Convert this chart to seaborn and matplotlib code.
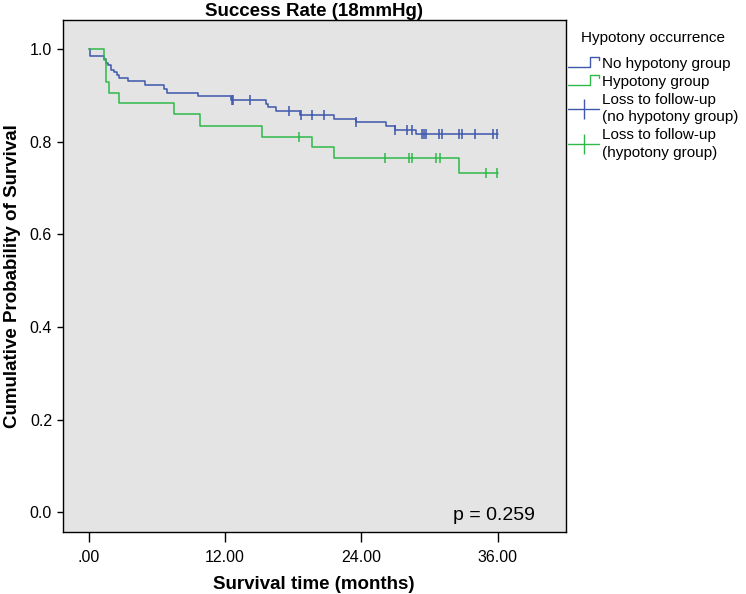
import matplotlib
matplotlib.use("Agg")
import matplotlib.pyplot as plt
import numpy as np
import pandas as pd
import seaborn as sns
from matplotlib.legend_handler import HandlerBase
from matplotlib.lines import Line2D

# Kaplan-Meier step levels (months, survival)
no_hypo_times = [0, 0.1, 1.4, 1.5, 1.75, 2.0, 2.2, 2.5, 2.7, 3.5, 5.0, 6.6, 6.9, 9.6,
                 12.5, 15.6, 15.8, 16.5, 18.6, 21.6, 23.5, 26.2, 27.0, 28.8, 36.0]
no_hypo_surv = [1.0, 0.985, 0.978, 0.971, 0.965, 0.955, 0.950, 0.944, 0.938, 0.931,
                0.922, 0.915, 0.906, 0.898, 0.890, 0.881, 0.875, 0.866, 0.857, 0.850,
                0.842, 0.833, 0.825, 0.816, 0.816]
no_hypo_censor = [12.6, 12.7, 14.2, 17.6, 18.7, 19.7, 20.7, 23.5, 27.0, 28.0, 28.5,
                  29.3, 29.5, 29.7, 30.8, 31.1, 32.6, 32.9, 34.0, 35.6, 35.9]

hypo_times = [0, 1.36, 1.55, 1.8, 2.7, 7.5, 9.8, 15.3, 19.7, 21.6, 32.6, 36.0]
hypo_surv = [1.0, 0.976, 0.929, 0.906, 0.883, 0.859, 0.835, 0.811, 0.788, 0.764,
             0.733, 0.733]
hypo_censor = [18.5, 26.1, 28.2, 28.5, 30.6, 30.9, 35.0, 35.9]

GROUPS = ["No hypotony group", "Hypotony group"]
COLORS = {"No hypotony group": "#3E58AC", "Hypotony group": "#2EB848"}
X_TICKS = [0, 12, 24, 36]
X_TICK_LABELS = [".00", "12.00", "24.00", "36.00"]
Y_TICKS = [0.0, 0.2, 0.4, 0.6, 0.8, 1.0]
P_TEXT = "p = 0.259"


def surv_at(times, surv, t):
    idx = np.searchsorted(np.asarray(times), t, side="right") - 1
    return np.asarray(surv)[idx]


class StepHandler(HandlerBase):
    def create_artists(self, legend, orig_handle, xdescent, ydescent,
                       width, height, fontsize, trans):
        x0, y0 = -xdescent, -ydescent
        xs = [x0, x0 + 0.72 * width, x0 + 0.72 * width, x0 + width, x0 + width]
        ys = [y0 + 0.1 * height, y0 + 0.1 * height, y0 + 1.0 * height,
              y0 + 1.0 * height, y0 + 0.75 * height]
        line = Line2D(xs, ys, color=orig_handle.get_color(),
                      lw=orig_handle.get_linewidth(), transform=trans)
        return [line]


curves = pd.concat([
    pd.DataFrame({"time": no_hypo_times, "surv": no_hypo_surv, "group": GROUPS[0]}),
    pd.DataFrame({"time": hypo_times, "surv": hypo_surv, "group": GROUPS[1]}),
], ignore_index=True)

censors = pd.concat([
    pd.DataFrame({"time": no_hypo_censor,
                  "surv": surv_at(no_hypo_times, no_hypo_surv, no_hypo_censor),
                  "group": GROUPS[0]}),
    pd.DataFrame({"time": hypo_censor,
                  "surv": surv_at(hypo_times, hypo_surv, hypo_censor),
                  "group": GROUPS[1]}),
], ignore_index=True)

sns.set_style("ticks")
plt.rcParams["font.family"] = ["Liberation Sans", "DejaVu Sans"]
plt.rcParams.update({"text.color": "black", "axes.labelcolor": "black",
                     "xtick.color": "black", "ytick.color": "black"})

fig = plt.figure(figsize=(7.46, 5.94), dpi=100)
ax = fig.add_axes([0.0838, 0.1044, 0.6748, 0.8619])
ax.set_facecolor("#E4E4E4")

sns.lineplot(data=curves, x="time", y="surv", hue="group", palette=COLORS,
             drawstyle="steps-post", estimator=None, sort=False, linewidth=1.1,
             legend=False, ax=ax)
for group in GROUPS:
    sub = censors[censors["group"] == group]
    ax.plot(sub["time"], sub["surv"], linestyle="none", marker="|",
            markersize=7, markeredgewidth=1.1, color=COLORS[group])

ax.set_xlim(-2.29, 42.0)
ax.set_ylim(-0.043, 1.063)
ax.set_xticks(X_TICKS)
ax.set_xticklabels(X_TICK_LABELS)
ax.set_yticks(Y_TICKS)
ax.set_yticklabels([f"{v:.1f}" for v in Y_TICKS])
ax.tick_params(axis="x", length=7, width=1.0, pad=6, labelsize=11.5)
ax.tick_params(axis="y", length=4.5, width=1.0, pad=3, labelsize=11.5)
for spine in ax.spines.values():
    spine.set_visible(True)
    spine.set_color("black")
    spine.set_linewidth(1.0)

ax.set_xlabel("Survival time (months)", fontsize=13.5, fontweight="bold", labelpad=8)
ax.set_ylabel("Cumulative Probability of Survival", fontsize=13.5,
              fontweight="bold", labelpad=6)
ax.set_title("Success Rate (18mmHg)", fontsize=13.5, fontweight="bold", pad=3)
ax.text(0.938, 0.033, P_TEXT, transform=ax.transAxes, ha="right", va="center",
        fontsize=14)

handles = [
    Line2D([0], [0], color=COLORS[GROUPS[0]], lw=1.0),
    Line2D([0], [0], color=COLORS[GROUPS[1]], lw=1.0),
    Line2D([0], [0], color=COLORS[GROUPS[0]], lw=1.0, marker="|", markersize=14,
           markeredgewidth=1.0),
    Line2D([0], [0], color=COLORS[GROUPS[1]], lw=1.0, marker="|", markersize=14,
           markeredgewidth=1.0),
]
labels = ["No hypotony group", "Hypotony group",
          "Loss to follow-up\n(no hypotony group)", "Loss to follow-up\n(hypotony group)"]
leg = ax.legend(handles, labels, loc="upper left",
                bbox_to_anchor=(1.005, 0.928), frameon=False, fontsize=11,
                handlelength=2.0, handletextpad=0.2,
                labelspacing=0.25, borderaxespad=0, borderpad=0,
                numpoints=1,
                handler_map={handles[0]: StepHandler(), handles[1]: StepHandler()})
for txt in leg.get_texts():
    txt.set_linespacing(1.35)
fig.text(581 / 746, 1 - 38 / 594, "Hypotony occurrence", ha="left", va="center",
         fontsize=11)

fig.savefig("out.png", dpi=100)
